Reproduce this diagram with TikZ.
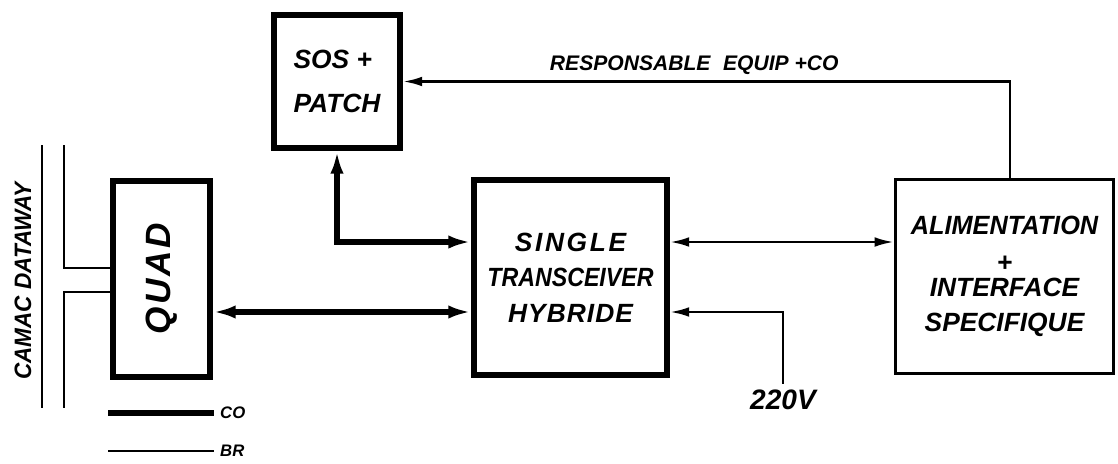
\documentclass[tikz,border=0pt]{standalone}
\usepackage{fontspec}
\usepackage{graphicx}
\newfontfamily\handfont{Liberation Sans}
\usepackage{tikz}
\usetikzlibrary{arrows.meta, calc, positioning}

\tikzset{
  thickbox/.style={draw, line width=3.2pt, inner sep=0pt},
  thinbox/.style={draw, line width=1.5pt, inner sep=0pt},
  colink/.style={line width=3.2pt, >={Latex[length=13pt,width=7.5pt]}},
  brlink/.style={line width=1.5pt, >={Latex[length=11pt,width=5.5pt]}},
}
\newcommand{\hand}[1]{\handfont\bfseries\itshape\fontsize{#1}{1.35\dimexpr#1pt\relax}\selectfont}

\begin{document}
\begin{tikzpicture}[x=0.02cm, y=-0.02cm]
    \useasboundingbox (0,0) rectangle (1118,463);
    % Boxes
    \node[thickbox, minimum width=2.52cm, minimum height=2.66cm, align=left,
          font=\hand{15}] (sos) at (337,81.5)
          {SOS +\\[5pt]PATCH};
    \node[thickbox, minimum width=3.86cm, minimum height=3.9cm, align=center,
          font=\hand{15}] (single) at (570.5,277.5)
          {{\addfontfeature{LetterSpace=10}SINGLE}\\\scalebox{0.88}[1]{TRANSCEIVER}\\{\addfontfeature{LetterSpace=4}HYBRIDE}};
    \node[thickbox, minimum width=1.94cm, minimum height=3.92cm] (quad) at (161.5,279)
          {\rotatebox{90}{\hand{20}\addfontfeature{LetterSpace=8}QUAD}};
    \node[thinbox, minimum width=4.37cm, minimum height=3.89cm, align=center,
          font=\hand{15}] (alim) at (1004.5,276.5)
          {\scalebox{0.96}[1]{ALIMENTATION}\\[1pt]+\\[-6.5pt]INTERFACE\\SPECIFIQUE};
    % CAMAC dataway
    \node[rotate=90, font=\hand{13.5}] (camac) at (23,281) {\scalebox{0.95}[1]{CAMAC DATAWAY}};
    \coordinate (busA top) at (42,145);
    \coordinate (busA bot) at (42,408);
    \coordinate (busB top) at (64,145);
    \coordinate (busB bot) at (64,408);
    \coordinate (qa) at ([yshift=0.22cm]quad.west);
    \coordinate (qb) at ([yshift=-0.26cm]quad.west);
    \draw[brlink] (busA top) -- (busA bot);
    \draw[brlink] (busB top) |- (qa);
    \draw[brlink] (qb) -| (busB bot);
    % Links
    \coordinate (ss) at ([yshift=0.71cm]single.west);
    \coordinate (qs) at ([yshift=-0.66cm]quad.east);
    \coordinate (sa) at ([yshift=0.71cm]single.east);
    \coordinate (sv) at ([yshift=-0.69cm]single.east);
    \draw[colink, <->] (sos.south) |- (ss);
    \draw[colink, <->] (qs) -- (qs -| single.west);
    \draw[brlink, <->] (sa) -- (sa -| alim.west);
    \draw[brlink, ->] ([xshift=0.11cm]alim.north) |- (sos.east)
        node[pos=0.76, above, font=\hand{12}] (resp)
        {RESPONSABLE\hspace{0.6em}EQUIP +CO};
    \node[font=\hand{16}] (volt) at (783,400) {220V};
    \draw[brlink, ->] (volt.north) |- (sv);
    % Legend
    \node[font=\hand{9.5}, anchor=west] (colbl) at (214,413) {CO};
    \node[font=\hand{9.5}, anchor=west] (brlbl) at (214,451) {BR};
    \coordinate (co end) at (108,413);
    \coordinate (br end) at (108,451);
    \draw[colink] (co end) -- (colbl.west);
    \draw[brlink] (br end) -- (brlbl.west);
\end{tikzpicture}
\end{document}
